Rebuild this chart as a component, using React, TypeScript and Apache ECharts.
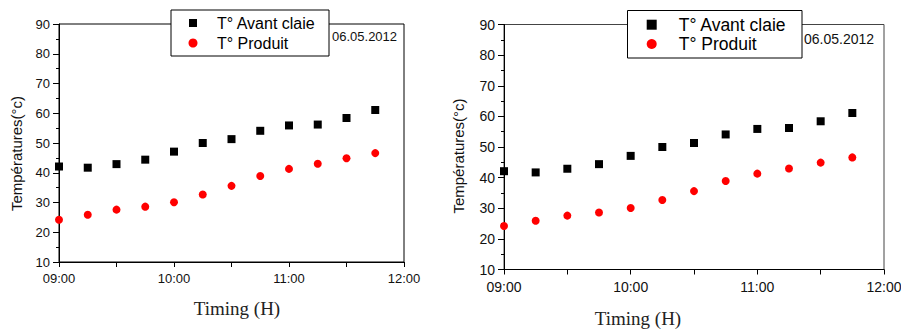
import React, { useEffect, useRef } from "react";
import * as echarts from "echarts";

const times = ["09:00", "09:15", "09:30", "09:45", "10:00", "10:15", "10:30", "10:45", "11:00", "11:15", "11:30", "11:45"];
const avantClaie = [42.1, 41.7, 42.9, 44.4, 47.1, 50.0, 51.3, 54.1, 55.9, 56.2, 58.4, 61.1];
const produit = [24.2, 25.9, 27.6, 28.6, 30.1, 32.7, 35.6, 38.9, 41.3, 43.0, 44.9, 46.6];
const seriesNames = ["T° Avant claie", "T° Produit"];
const seriesColors = ["#000000", "#ff0000"];
const dateLabel = "06.05.2012";
const xTitle = "Timing (H)";
const yTitle = "Températures(°c)";

const toMin = (t: string) => {
  const [h, m] = t.split(":").map(Number);
  return h * 60 + m;
};
const fmt = (v: number) => {
  if (v % 60 !== 0) return "";
  const h = Math.floor(v / 60);
  return (h < 10 ? "0" : "") + h + ":00";
};

const SANS = "'Liberation Sans', Arial, sans-serif";
const SERIF = "'Liberation Serif', 'Times New Roman', serif";

export default function App() {
  const ref = useRef<HTMLDivElement>(null);
  useEffect(() => {
    if (!ref.current) return;
    const chart = echarts.init(ref.current, undefined, { renderer: "svg" });
    const panels = [
      { grid: { left: 59, top: 24, width: 345, height: 238 }, fs: 13, border: "#000",
        yGap: 35, yPad: [0, 21, 0, 0], xGap: 37, xPad: [0, 0, 0, 11],
        lg: { x: 171, y: 10, w: 158, h: 46, iconX: 193, textX: 217, rows: [23, 43], sq: 8, r: 4.5, fs: 16 },
        date: { x: 332, y: 36, fs: 13 } },
      { grid: { left: 504, top: 24.5, width: 380, height: 245 }, fs: 14, border: "#444",
        yGap: 38, yPad: [0, 18, 0, 0], xGap: 39.5, xPad: [0, 112, 0, 0],
        lg: { x: 627.5, y: 10.5, w: 174.5, h: 47.5, iconX: 651.7, textX: 678.7, rows: [24.7, 44], sq: 10, r: 5, fs: 17.5 },
        date: { x: 804, y: 39, fs: 14 } },
    ];
    const xs = times.map(toMin);
    const legendGraphics = panels.flatMap((p) => {
      const l = p.lg;
      return [
        { type: "rect", z: 50, shape: { x: l.x, y: l.y, width: l.w, height: l.h },
          style: { fill: "#fff", stroke: "#000", lineWidth: 1 } },
        { type: "rect", z: 51, shape: { x: l.iconX - l.sq / 2, y: l.rows[0] - l.sq / 2, width: l.sq, height: l.sq },
          style: { fill: seriesColors[0] } },
        { type: "circle", z: 51, shape: { cx: l.iconX, cy: l.rows[1], r: l.r }, style: { fill: seriesColors[1] } },
        ...seriesNames.map((n, k) => ({
          type: "text", z: 51, x: l.textX, y: l.rows[k],
          style: { text: n, fontFamily: SANS, fontSize: l.fs, fill: "#000", verticalAlign: "middle" },
        })),
      ];
    });
    const option: any = {
      animation: false,
      backgroundColor: "#fff",
      grid: panels.map((p) => ({ ...p.grid, outerBoundsMode: "none", containLabel: false, show: true,
        borderColor: p.border, borderWidth: 1, backgroundColor: "transparent" })),
      xAxis: panels.map((p, i) => ({
        type: "value", gridIndex: i, min: 540, max: 720, interval: 30,
        name: xTitle, nameLocation: "middle", nameGap: p.xGap,
        nameTextStyle: { fontFamily: SERIF, fontSize: 19, color: "#222", padding: p.xPad },
        axisLine: { show: true, lineStyle: { color: "#000", width: 1 } },
        axisTick: { show: true, length: 5, lineStyle: { color: "#000" } },
        axisLabel: { formatter: fmt, fontFamily: SANS, fontSize: p.fs, color: "#111", margin: 10, showMaxLabel: true },
        splitLine: { show: false },
      })),
      yAxis: panels.map((p, i) => ({
        type: "value", gridIndex: i, min: 10, max: 90, interval: 10,
        name: yTitle, nameLocation: "middle", nameGap: p.yGap,
        nameTextStyle: { fontFamily: SANS, fontSize: 15, color: "#111", padding: p.yPad },
        axisLine: { show: true, lineStyle: { color: "#000", width: 1 } },
        axisTick: { show: true, length: 6, lineStyle: { color: "#000" } },
        minorTick: { show: true, splitNumber: 2, length: 3, lineStyle: { color: "#000" } },
        axisLabel: { fontFamily: SANS, fontSize: p.fs, color: "#111", margin: 9 },
        splitLine: { show: false },
      })),
      graphic: [
        ...panels.map((p) => ({
          type: "text", x: p.date.x, y: p.date.y, z: 20,
          style: { text: dateLabel, fontFamily: SANS, fontSize: p.date.fs, fill: "#111", verticalAlign: "middle" },
        })),
        ...legendGraphics,
      ],
      series: panels.flatMap((_, i) => [
        { type: "scatter", name: seriesNames[0], xAxisIndex: i, yAxisIndex: i, symbol: "rect", symbolSize: 8,
          itemStyle: { color: seriesColors[0], opacity: 1 }, data: xs.map((x, k) => [x, avantClaie[k]]) },
        { type: "scatter", name: seriesNames[1], xAxisIndex: i, yAxisIndex: i, symbol: "circle", symbolSize: 8,
          itemStyle: { color: seriesColors[1], opacity: 1 }, data: xs.map((x, k) => [x, produit[k]]) },
      ]),
    };
    chart.setOption(option);
    return () => chart.dispose();
  }, []);
  return <div ref={ref} style={{ position: "absolute", left: 0, top: 0, width: 901, height: 329 }} />;
}
